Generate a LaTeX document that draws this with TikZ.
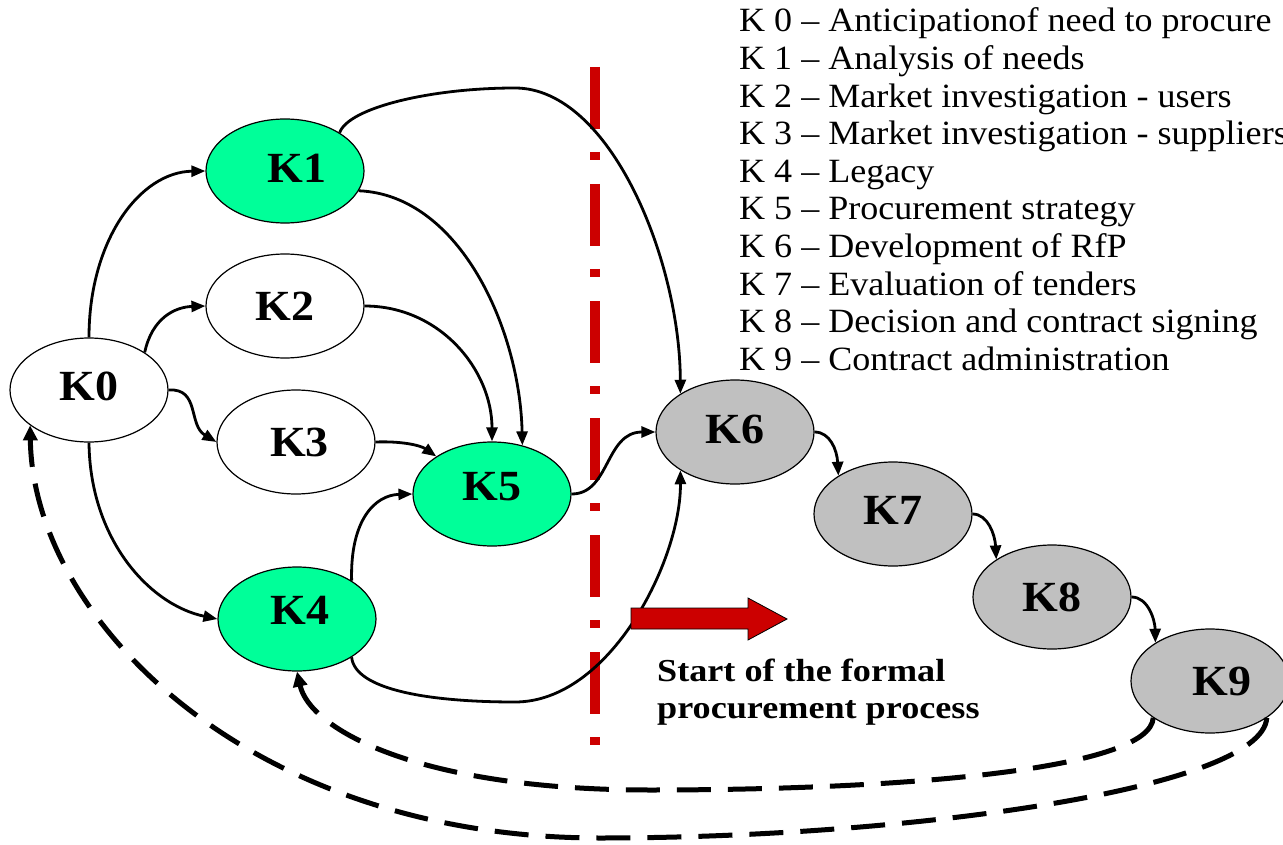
\documentclass[tikz,border=0pt]{standalone}
\usepackage{fontspec}
\setmainfont{Liberation Serif}
\newfontfamily\labfont[FakeStretch=1.07]{Liberation Serif}
\newfontfamily\capfont[FakeStretch=1.13]{Liberation Serif}
\newfontfamily\legfont[FakeStretch=1.06]{Liberation Serif}
\usetikzlibrary{shapes.geometric,arrows.meta}
\definecolor{kgreen}{HTML}{00FF99}
\definecolor{kgray}{HTML}{C0C0C0}
\definecolor{kred}{HTML}{CC0000}
\tikzset{
  kbox/.style={ellipse, draw=black, line width=1.2pt, minimum width=158pt, minimum height=104pt, inner sep=0pt,
    font=\labfont\bfseries\fontsize{43}{43}\selectfont},
  greenk/.style={kbox, fill=kgreen},
  whitek/.style={kbox, fill=white},
  grayk/.style={kbox, fill=kgray},
  conn/.style={line width=2.8pt, -{Triangle[length=14pt,width=11pt]}},
  back/.style={line width=5pt, dash pattern=on 34pt off 17pt, -{Triangle[length=15pt,width=14pt]}},
  legline/.style={anchor=base west, inner sep=0pt, font=\legfont\fontsize{34}{34}\selectfont},
  capline/.style={anchor=base west, inner sep=0pt, font=\capfont\bfseries\fontsize{32}{32}\selectfont},
}
\begin{document}
\begin{tikzpicture}[x=1pt,y=-1pt]
\useasboundingbox (0,0) rectangle (1283,845);
\fill[white] (0,0) rectangle (1283,845);

% red separator
\draw[kred, line width=10pt, dash pattern=on 62pt off 23pt on 8pt off 24pt] (595,67) -- (595,745);

% nodes
\node[whitek] (K0) at (89,390) {\raisebox{7pt}{K0}};
\node[greenk] (K1) at (285,171) {\hspace*{24pt}\raisebox{5pt}{K1}};
\node[whitek] (K2) at (285,306) {\raisebox{-5pt}{K2}};
\node[whitek] (K3) at (296,442) {\hspace*{7pt}\raisebox{-3pt}{K3}};
\node[greenk] (K4) at (297,619) {\hspace*{6pt}\raisebox{18pt}{K4}};
\node[greenk] (K5) at (492,494) {\raisebox{15pt}{K5}};
\node[grayk] (K6) at (735,432) {\raisebox{6pt}{K6}};
\node[grayk] (K7) at (893,514) {\raisebox{7pt}{K7}};
\node[grayk] (K8) at (1052,597) {\raisebox{-16pt}{K8}};
\node[grayk] (K9) at (1210,681) {\hspace*{24pt}\raisebox{-13pt}{K9}};

% connectors
\draw[conn] (K0.north) .. controls (89,240) and (140,172) .. (K1.west);
\draw[conn] (K0.34) .. controls (152,318) and (175,307) .. (K2.west);
\draw[conn] (K0.east) .. controls (200,388) and (188,425) .. (K3.west);
\draw[conn] (K0.south) .. controls (90,540) and (150,605) .. (K4.west);
\draw[conn] (K1.-15) .. controls (460,195) and (520,330) .. (K5.58);
\draw[conn] (K2.east) .. controls (440,306) and (492,370) .. (K5.north);
\draw[conn] (K3.east) .. controls (400,441) and (420,445) .. (K5.146);
\draw[conn] (K4.35) .. controls (350,520) and (375,495) .. (K5.west);
\draw[conn] (K1.35) .. controls (348,108) and (430,88) .. (515,88) .. controls (610,88) and (680,260) .. (K6.145);
\draw[conn] (K4.-35) .. controls (355,690) and (430,702) .. (515,702) .. controls (610,702) and (681,560) .. (K6.-145);
\draw[conn] (K5.east) .. controls (610,494) and (605,432) .. (K6.west);
\draw[conn] (K6.east) .. controls (830,432) and (837,450) .. (K7.145);
\draw[conn] (K7.east) .. controls (988,514) and (995,535) .. (K8.146);
\draw[conn] (K8.east) .. controls (1148,597) and (1155,620) .. (K9.145);

% feedback (dashed)
\draw[back] (K9.-147) .. controls (1150,770) and (900,790) .. (650,790) .. controls (420,790) and (310,730) .. (K4.south);
\draw[back] (K9.-33) .. controls (1262,790) and (900,838) .. (600,838) .. controls (250,838) and (33,620) .. (K0.-149);

% red arrow
\draw[fill=kred, draw=black, line width=0.8pt] (631,608) -- (748,608) -- (748,598) -- (787,619) -- (748,640) -- (748,629) -- (631,629) -- cycle;
\node[capline] (cap1) at (657,681) {Start of the formal};
\node[capline] (cap2) at (657,718) {procurement process};

% legend
\node[legline] (L0) at (739,32) {K 0 – Anticipationof need to procure};
\node[legline] (L1) at (739,69.6) {K 1 – Analysis of needs};
\node[legline] (L2) at (739,107.2) {K 2 – Market investigation - users};
\node[legline] (L3) at (739,144.8) {K 3 – Market investigation - suppliers};
\node[legline] (L4) at (739,182.4) {K 4 – Legacy};
\node[legline] (L5) at (739,220) {K 5 – Procurement strategy};
\node[legline] (L6) at (739,257.6) {K 6 – Development of RfP};
\node[legline] (L7) at (739,295.2) {K 7 – Evaluation of tenders};
\node[legline] (L8) at (739,332.8) {K 8 – Decision and contract signing};
\node[legline] (L9) at (739,370.4) {K 9 – Contract administration};
\end{tikzpicture}
\end{document}
